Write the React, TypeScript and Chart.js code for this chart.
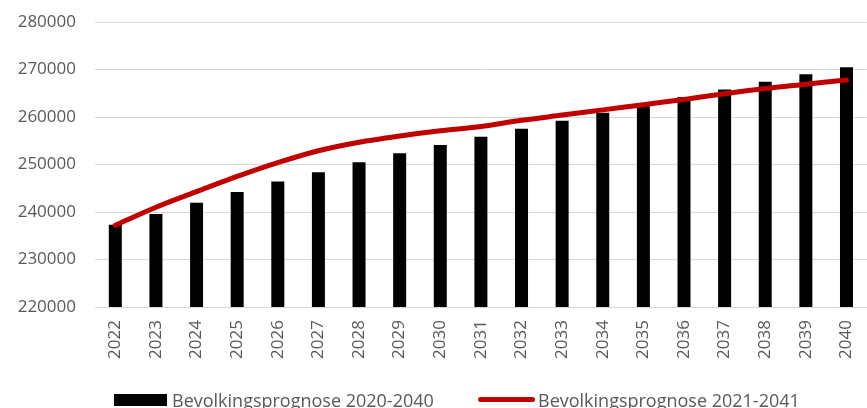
import { useEffect, useRef } from "react";
import { Chart, registerables } from "chart.js";

Chart.register(...registerables);

const years = [
  "2022", "2023", "2024", "2025", "2026", "2027", "2028", "2029", "2030", "2031",
  "2032", "2033", "2034", "2035", "2036", "2037", "2038", "2039", "2040",
];

const prognose2020_2040 = [
  237300, 239600, 241950, 244200, 246400, 248350, 250450, 252350, 254100, 255850,
  257550, 259200, 260900, 262500, 264200, 265800, 267400, 269000, 270450,
];

const prognose2021_2041 = [
  237200, 241000, 244300, 247500, 250400, 252900, 254700, 256000, 257100, 258000,
  259300, 260400, 261500, 262600, 263700, 264900, 266000, 266900, 267800,
];

const seriesNames = ["Bevolkingsprognose 2020-2040", "Bevolkingsprognose 2021-2041"];
const seriesColors = ["#000000", "#C00000"];

const yMin = 220000;
const yMax = 280000;
const yStep = 10000;

const FONT = "'Open Sans', sans-serif";
const TEXT_COLOR = "#595959";

export default function App() {
  const ref = useRef<HTMLCanvasElement | null>(null);

  useEffect(() => {
    if (!ref.current) return;
    Chart.defaults.font.family = FONT;
    const chart = new Chart(ref.current, {
      type: "bar",
      data: {
        labels: years,
        datasets: [
          {
            type: "bar",
            label: seriesNames[0],
            data: prognose2020_2040,
            backgroundColor: seriesColors[0],
            borderWidth: 0,
            barPercentage: 0.32,
            categoryPercentage: 1,
            order: 1,
          },
          {
            type: "line",
            label: seriesNames[1],
            data: prognose2021_2041,
            borderColor: seriesColors[1],
            backgroundColor: seriesColors[1],
            borderWidth: 5,
            pointRadius: 0,
            pointHoverRadius: 0,
            tension: 0.3,
            borderCapStyle: "round",
            borderJoinStyle: "round",
            order: 0,
          },
        ],
      },
      options: {
        animation: false,
        responsive: true,
        maintainAspectRatio: false,
        layout: { padding: { left: 0, right: 4.4, top: 22, bottom: 0 } },
        plugins: {
          tooltip: { enabled: false },
          legend: { display: false },
        },
        scales: {
          x: {
            grid: { display: false, drawTicks: false },
            border: { display: false },
            ticks: {
              color: TEXT_COLOR,
              font: { size: 17 },
              minRotation: 90,
              maxRotation: 90,
              autoSkip: false,
              padding: 13,
            },
            afterFit: (s: any) => {
              s.height = 101;
            },
          },
          y: {
            min: yMin,
            max: yMax,
            grid: {
              color: "#d9d9d9",
              lineWidth: 1,
              drawTicks: true,
              tickLength: 19,
              tickColor: "rgba(0,0,0,0)",
            },
            border: { display: false },
            ticks: {
              stepSize: yStep,
              color: TEXT_COLOR,
              font: { size: 17 },
              padding: 0,
              callback: (v: any) => String(v),
            },
            afterFit: (s: any) => {
              s.width = 95;
            },
          },
        },
      },
    });
    return () => chart.destroy();
  }, []);

  const textStyle: React.CSSProperties = {
    position: "absolute",
    top: 390.5,
    fontFamily: FONT,
    fontSize: 18,
    lineHeight: "18px",
    color: TEXT_COLOR,
    whiteSpace: "nowrap",
  };

  return (
    <div style={{ position: "absolute", left: 0, top: 0, width: 867, height: 408, overflow: "hidden", background: "#fff" }}>
      <div style={{ position: "relative", width: 880, height: 408 }}>
        <canvas ref={ref} />
      </div>
      <div style={{ position: "absolute", left: 114, top: 393.5, width: 53, height: 12, background: seriesColors[0] }} />
      <span style={{ ...textStyle, left: 172 }}>{seriesNames[0]}</span>
      <div style={{ position: "absolute", left: 478, top: 397, width: 57, height: 5, borderRadius: 2.5, background: seriesColors[1] }} />
      <span style={{ ...textStyle, left: 538 }}>{seriesNames[1]}</span>
    </div>
  );
}
